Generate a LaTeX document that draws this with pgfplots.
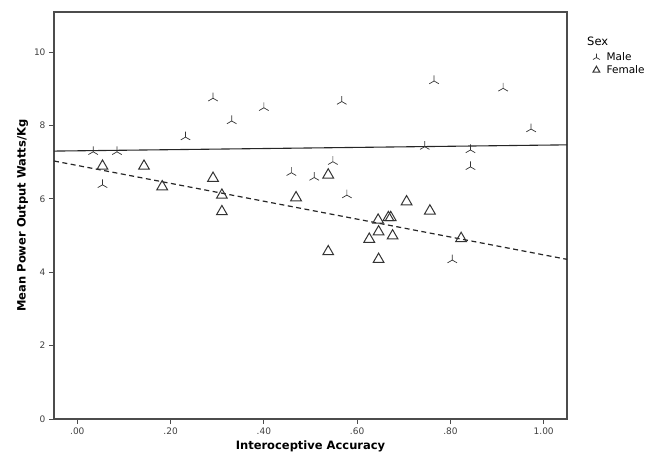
\documentclass[border=0pt]{standalone}
\usepackage{fontspec}
\setmainfont{DejaVu Sans}
\usepackage{pgfplots}
\pgfplotsset{compat=1.18}
\usetikzlibrary{plotmarks}
\begin{document}
\begin{tikzpicture}
\begin{axis}[
  scale only axis, width=513pt, height=407pt,
  xmin=-0.05, xmax=1.05, ymin=0, ymax=11.09,
  xtick={0,0.2,0.4,0.6,0.8,1}, xticklabels={.00,.20,.40,.60,.80,1.00},
  ytick={0,2,4,6,8,10},
  tick align=outside, major tick length=5pt, xtick pos=bottom, ytick pos=left,
  axis line style={draw=black!70, line width=1.1pt},
  tick style={black!70, line width=0.8pt},
  ticklabel style={font=\fontsize{9}{10}\selectfont, text=black!75},
  /pgf/number format/assume math mode=true,
  xlabel={Interoceptive Accuracy}, ylabel={Mean Power Output Watts/Kg},
  label style={font=\fontsize{11.5}{13}\selectfont\bfseries},
  ylabel style={yshift=-1pt},
  legend style={at={(1,1)}, anchor=north west, xshift=22pt, yshift=-37pt,
    draw=none, fill=none, font=\fontsize{10.5}{12}\selectfont, row sep=0pt,
    nodes={inner ysep=1.6pt, inner xsep=4pt}},
  legend cell align=left,
  legend image code/.code={\path (-4pt,0pt) (6pt,0pt); \draw[mark repeat=1,#1,mark size=4pt] plot coordinates {(0pt,0pt)};},
]
\addplot[only marks, mark=Mercedes star, mark size=5.5pt, mark options={draw=black!80, line width=0.7pt}] coordinates {
(0.034,7.28) (0.054,6.38) (0.085,7.28) (0.232,7.68) (0.291,8.74) (0.331,8.12)
(0.400,8.48) (0.459,6.71) (0.508,6.58) (0.548,7.01) (0.567,8.65) (0.578,6.10)
(0.745,7.42) (0.765,9.21) (0.804,4.33) (0.843,7.33) (0.843,6.87) (0.913,9.01)
(0.973,7.90)
};
\addlegendentry{Male}
\addplot[only marks, mark=triangle, mark size=6.2pt, mark options={draw=black!80, line width=1pt}] coordinates {
(0.054,6.89) (0.143,6.89) (0.182,6.33) (0.291,6.56) (0.310,6.10) (0.310,5.65)
(0.469,6.03) (0.538,6.65) (0.538,4.56) (0.626,4.90) (0.645,5.42) (0.646,5.10)
(0.646,4.35) (0.667,5.49) (0.672,5.49) (0.676,4.99) (0.706,5.92) (0.756,5.67)
(0.823,4.92)
};
\addlegendentry{Female}
\addplot[black!85, line width=1.1pt, forget plot] coordinates {(-0.05,7.30) (1.05,7.47)};
\addplot[black!85, line width=1.2pt, dash pattern=on 5pt off 3.5pt, forget plot] coordinates {(-0.05,7.03) (1.05,4.35)};
\end{axis}
\node[anchor=west, font=\fontsize{11.5}{13}\selectfont, inner sep=0pt] at ([xshift=20pt, yshift=-29pt]current axis.north east) {Sex};
\pgfresetboundingbox
\path[use as bounding box] ([xshift=-54pt,yshift=-43pt]current axis.south west) rectangle ([xshift=80pt,yshift=12pt]current axis.north east);
\end{tikzpicture}
\end{document}
